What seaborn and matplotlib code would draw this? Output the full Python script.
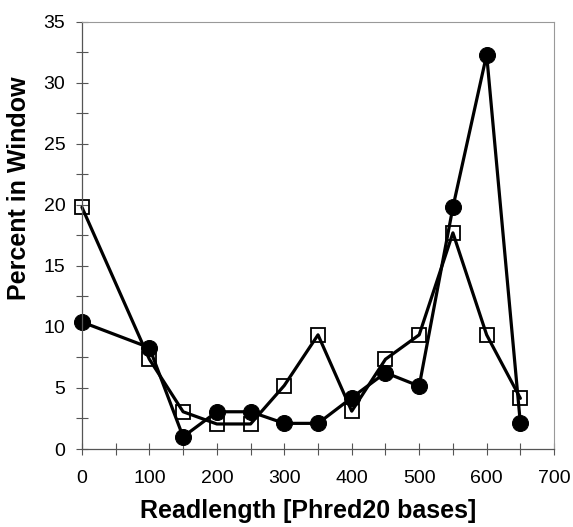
import numpy as np
import pandas as pd
import seaborn as sns
import matplotlib.pyplot as plt

# Readlength bins and percentages in each window
readlength = [0, 100, 150, 200, 250, 300, 350, 400, 450, 500, 550, 600, 650]
circles = [10.4, 8.3, 1.0, 3.05, 3.05, 2.1, 2.1, 4.2, 6.25, 5.15, 19.8, 32.3, 2.1]
squares = [19.8, 7.35, 3.05, 2.05, 2.05, 5.2, 9.35, 3.1, 7.35, 9.35, 17.7, 9.35, 4.15]

df = pd.DataFrame({'Readlength': readlength, 'circles': circles, 'squares': squares})

sns.set_style('ticks')
plt.rcParams['font.family'] = ['Liberation Sans', 'DejaVu Sans']
plt.rcParams['text.color'] = 'black'
plt.rcParams['axes.labelcolor'] = 'black'
plt.rcParams['xtick.labelcolor'] = 'black'
plt.rcParams['ytick.labelcolor'] = 'black'

fig = plt.figure(figsize=(5.73, 5.27), dpi=100)
ax = fig.add_axes([0.143, 0.148, 0.824, 0.811])

sns.lineplot(data=df, x='Readlength', y='circles', ax=ax, color='black', linewidth=2.3,
             marker='o', markersize=11.5, markerfacecolor='black', markeredgecolor='black',
             clip_on=False)
sns.lineplot(data=df, x='Readlength', y='squares', ax=ax, color='black', linewidth=2.3,
             marker='s', markersize=10.5, markerfacecolor='none', markeredgecolor='black',
             markeredgewidth=1.3, clip_on=False)

ax.set_xlim(0, 700)
ax.set_ylim(0, 35)
ax.set_xticks(range(0, 701, 100))
ax.set_xticks(range(50, 700, 100), minor=True)
ax.set_yticks(range(0, 36, 5))
ax.set_yticks(np.arange(2.5, 35, 5), minor=True)

for side in ['left', 'bottom']:
    ax.spines[side].set_color('#555555')
    ax.spines[side].set_linewidth(0.9)
for side in ['top', 'right']:
    ax.spines[side].set_visible(True)
    ax.spines[side].set_color('#999999')
    ax.spines[side].set_linewidth(0.8)

ax.tick_params(which='both', direction='inout', color='#555555', width=0.8)
ax.tick_params(which='major', length=8, labelsize=14, labelcolor='black')
ax.tick_params(axis='x', which='major', pad=11)
ax.tick_params(axis='y', which='major', pad=8)
ax.tick_params(which='minor', length=8)

ax.set_xlabel('Readlength [Phred20 bases]', fontsize=18, fontweight='bold', color='black')
ax.set_ylabel('Percent in Window', fontsize=18, fontweight='bold', color='black')
ax.xaxis.set_label_coords(0.48, -0.118)
ax.yaxis.set_label_coords(-0.107, 0.61)

fig.savefig('out.png', dpi=100)
